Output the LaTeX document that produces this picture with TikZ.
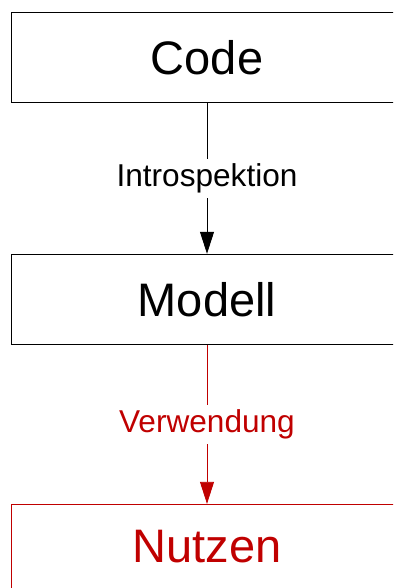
\documentclass[tikz,border=0pt]{standalone}
\usepackage{fontspec}
\setmainfont{Liberation Sans}
\usetikzlibrary{arrows.meta}
\definecolor{usered}{RGB}{192,0,0}
\tikzset{
  x=1pt, y=1pt,
  stage/.style={draw, line width=1pt, rectangle, minimum width=392pt,
    minimum height=90pt, inner sep=0pt, font=\fontsize{47}{53}\selectfont},
  flow/.style={line width=0.8pt, -{Triangle[length=22pt,width=14pt]}},
  flowlabel/.style={fill=white, inner sep=5pt, font=\fontsize{31.6}{36}\selectfont}
}
\begin{document}
\begin{tikzpicture}
  \useasboundingbox (0,0) rectangle (393,-588);
  \clip (0,0) rectangle (393,-588);
  \node[stage] (code) at (207,-57.7) {Code};
  \node[stage] (modell) at (207,-299.3) {Modell};
  \node[stage, minimum height=84.5pt, draw=usered, text=usered] (nutzen) at (207,-546.6) {Nutzen};
  \draw[flow] (code) -- node[flowlabel] {Introspektion} (modell);
  \draw[flow, usered] (modell) -- node[flowlabel, text=usered] {Verwendung} (nutzen);
\end{tikzpicture}
\end{document}
